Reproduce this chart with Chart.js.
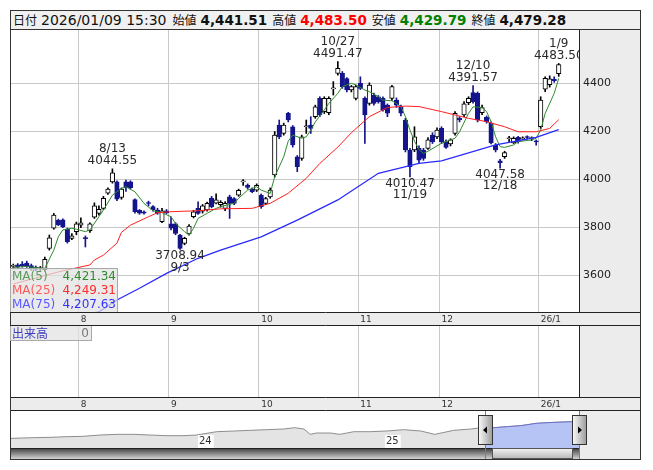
<!DOCTYPE html>
<html lang="ja">
<head>
<meta charset="utf-8">
<title>chart</title>
<script src="https://cdn.jsdelivr.net/npm/chart.js@4.4.1/dist/chart.umd.min.js"></script>
<style>
html,body{margin:0;padding:0;background:#fff}
body{position:relative;width:653px;height:470px;overflow:hidden;font-family:"DejaVu Sans",sans-serif}
#frame{position:absolute;left:10px;top:10px;width:631px;height:450px;border:1px solid #333;box-sizing:border-box}
#head{position:absolute;left:11px;top:11px;width:629px;height:19px;box-sizing:border-box;border-bottom:1px solid #333;background:#f0f0f0;line-height:18px;white-space:nowrap;color:#111;padding-left:2px}
#head span{display:inline-block}
#head .k{font-family:"Noto Sans CJK JP",sans-serif;font-size:12px;margin-right:4px}
#head .d{font-size:14px;margin-right:6px}
#head .v{font-size:13.5px;font-weight:bold;margin-right:5px}
canvas{position:absolute;left:11px;display:block}
#main{top:30px}
#vol{top:326px}
#nav{top:411px}
#malegend{position:absolute;left:10px;top:268px;width:108px;height:44px;box-sizing:border-box;border:1px solid #a8a8a8;border-bottom:none;background:rgba(226,226,226,0.72);font-size:12px}
#malegend div{position:relative;height:14px;line-height:14px}
#malegend .n{position:absolute;left:1px}
#malegend .v{position:absolute;right:1px}
#volbox{position:absolute;left:10px;top:326px;width:82px;height:15px;box-sizing:border-box;border:1px solid #a8a8a8;border-top:none;background:rgba(226,226,226,0.72);font-size:12px;line-height:14px}
#volbox .n{position:absolute;left:1px;font-family:"Noto Sans CJK JP",sans-serif;color:#3c3cc0}
#volbox .v{position:absolute;right:2px;color:#777}
</style>
</head>
<body>
<div id="frame"></div>
<div id="head"></div>
<canvas id="main" width="629" height="296"></canvas>
<canvas id="vol" width="629" height="85"></canvas>
<canvas id="nav" width="629" height="48"></canvas>
<div id="malegend"></div>
<div id="volbox"><span class="n">出来高</span><span class="v" id="volv"></span></div>
<script>
// trading days shown, plus the empty slots on the right
const dates = [
'7/10','7/11','7/14','7/15','7/16','7/17','7/18','7/22','7/23','7/24','7/25','7/28','7/29','7/30','7/31',
'8/1','8/4','8/5','8/6','8/7','8/8','8/12','8/13','8/14','8/15','8/18','8/19','8/20','8/21','8/22','8/25','8/26','8/27','8/28','8/29',
'9/1','9/2','9/3','9/4','9/5','9/8','9/9','9/10','9/11','9/12','9/16','9/17','9/18','9/19','9/22','9/24','9/25','9/26','9/29','9/30',
'10/1','10/2','10/3','10/6','10/7','10/8','10/9','10/10','10/14','10/15','10/16','10/17','10/20','10/21','10/22','10/23','10/24','10/27','10/28','10/29','10/30','10/31',
'11/4','11/5','11/6','11/7','11/10','11/11','11/12','11/13','11/14','11/17','11/18','11/19','11/20','11/21','11/25','11/26','11/27','11/28',
'12/1','12/2','12/3','12/4','12/5','12/8','12/9','12/10','12/11','12/12','12/15','12/16','12/17','12/18','12/19','12/22','12/23','12/24','12/25','12/26','12/29','12/30',
'1/5','1/6','1/7','1/8','1/9'
]
const futureDates = ['1/13','1/14','1/15','1/16']

const opens = [
3638,3645,3648,3652,3642,3634,3628,3624,3713,3797,3830,3832,3794,3755,3783,
3810,3757,3787,3843,3859,3880,3943,3990,3990,3925,3990,3990,3917,3872,3866,3902,3887,3873,3825,3870,
3815,3815,3769,3734,3773,3845,3880,3868,3873,3922,3902,3895,3880,3928,3921,3935,3990,3977,3959,3956,
3935,3901,3928,4019,4227,4192,4276,4220,4095,4088,4220,4227,4262,4338,4283,4279,4378,4442,4442,4421,4373,4338,
4401,4338,4317,4352,4345,4338,4310,4338,4331,4303,4248,4123,4123,4130,4123,4130,4185,4178,
4213,4158,4148,4192,4255,4269,4320,4362,4359,4279,4259,4234,4144,4078,4095,4170,4153,4176,4170,4176,4171,4158,
4220,4376,4395,4418,4441.51
]
const highs = [
3648,3650,3658,3660,3648,3640,3638,3677,3769,3859,3835,3836,3798,3775,3823,
3840,3765,3820,3903,3890,3930,3965,4044.55,3995,3965,3998,3995,3920,3875,3870,3910,3892,3880,3880,3875,
3845,3820,3772,3760,3812,3872,3907,3896,3906,3930,3940,3912,3908,3935,3925,3960,4000,3982,3965,3982,
3940,3926,3965,4200,4248,4235,4280,4225,4100,4185,4248,4262,4310,4345,4345,4345,4408,4491.47,4450,4425,4392,4394,
4428,4345,4403,4360,4350,4345,4315,4392,4340,4310,4255,4130,4220,4140,4130,4175,4195,4215,
4220,4165,4170,4283,4262,4325,4345,4391.57,4365,4310,4265,4240,4150,4084,4118,4180,4178,4180,4178,4182,4178,4165,
4345,4428,4432,4428,4483.50
]
const lows = [
3628,3630,3635,3634,3622,3620,3618,3618,3706,3793,3808,3800,3735,3750,3770,
3800,3719,3780,3838,3852,3875,3938,3985,3912,3918,3950,3960,3860,3855,3856,3890,3868,3855,3820,3858,
3790,3770,3708.94,3728,3768,3840,3855,3860,3868,3882,3898,3885,3870,3838,3895,3930,3975,3960,3945,3950,
3880,3895,3922,4010,4170,4185,4240,4135,4033,4080,4192,4192,4255,4262,4275,4270,4352,4435,4380,4365,4365,4332,
4375,4151,4310,4310,4318,4285,4262,4330,4300,4265,4115,4010.47,4116,4070,4080,4125,4150,4170,
4150,4130,4140,4185,4240,4262,4312,4318,4240,4270,4235,4148,4115,4047.58,4088,4158,4150,4152,4165,4168,4162,4143,
4213,4366,4385,4405,4429.79
]
const closes = [
3642,3636,3640,3638,3628,3626,3630,3668,3757,3852,3812,3803,3741,3765,3815,
3820,3754,3815,3890,3876,3922,3960,4028,3918,3960,3965,3966,3866,3860,3860,3900,3873,3860,3870,3862,
3797,3776,3713,3755,3806,3866,3859,3890,3901,3887,3915,3905,3901,3901,3901,3955,3992,3967,3949,3976,
3887,3921,3956,4185,4178,4227,4248,4144,4054,4178,4222,4213,4303,4269,4338,4338,4380,4463,4387,4373,4387,4387,
4380,4269,4394,4317,4324,4290,4276,4387,4310,4276,4123,4054,4178,4081,4088,4165,4158,4206,
4158,4134,4165,4276,4248,4315,4338,4324,4248,4300,4241,4153,4123,4070,4112,4172,4172,4158,4172,4175,4172,4157,
4331,4422,4420,4412,4479.28
]

// moving averages: [day, value]
const ma5 = [
['7/10',3634],['7/15',3638],['7/17',3633],['7/22',3630],['7/24',3706],['7/25',3762],['7/28',3790],['7/30',3797],['7/31',3793],
['8/4',3783],['8/5',3790],['8/7',3845],['8/8',3873],['8/13',3935],['8/15',3963],['8/18',3970],['8/20',3949],['8/22',3901],
['8/26',3870],['8/28',3862],['9/1',3845],['9/2',3817],['9/4',3783],['9/5',3769],['9/8',3797],['9/9',3838],['9/11',3859],
['9/16',3880],['9/17',3887],['9/22',3901],['9/24',3922],['9/26',3956],['9/30',3970],['10/1',3956],['10/3',3942],['10/6',4012],
['10/8',4095],['10/9',4160],['10/10',4185],['10/15',4172],['10/16',4178],['10/17',4206],['10/20',4240],['10/22',4290],
['10/23',4317],['10/27',4359],['10/28',4387],['10/30',4401],['10/31',4394],['11/5',4373],['11/6',4366],['11/10',4345],
['11/11',4331],['11/13',4328],['11/14',4317],['11/17',4303],['11/18',4262],['11/19',4206],['11/20',4160],['11/21',4125],
['11/25',4109],['11/26',4118],['12/1',4151],['12/4',4172],['12/5',4199],['12/9',4276],['12/10',4303],['12/12',4300],
['12/15',4283],['12/16',4241],['12/17',4178],['12/18',4137],['12/19',4134],['12/23',4144],['12/24',4158],['12/29',4165],
['12/30',4172],['1/5',4206],['1/6',4276],['1/8',4359],['1/9',4421.34]
]
const ma25 = [
['7/10',3565],['7/22',3600],['7/25',3615],['7/31',3632],['8/5',3644],['8/6',3665],['8/8',3685],['8/14',3735],['8/15',3780],
['8/19',3810],['8/25',3845],['8/27',3862],['9/1',3866],['9/9',3870],['9/17',3878],['9/29',3880],['10/3',3901],['10/9',3943],
['10/16',4005],['10/21',4067],['10/27',4135],['10/30',4195],['11/6',4262],['11/12',4300],['11/18',4306],['11/21',4304],
['12/1',4283],['12/4',4269],['12/9',4255],['12/15',4241],['12/19',4220],['12/24',4199],['12/30',4199],['1/7',4213],['1/9',4249.31]
]
const ma75 = [
['7/10',3380],['7/25',3415],['8/7',3449],['8/14',3498],['8/21',3547],['8/29',3609],['9/9',3672],['9/17',3706],['10/1',3761],
['10/14',3831],['10/27',3915],['11/10',4026],['11/21',4067],['12/1',4078],['12/17',4144],['12/30',4176],['1/9',4207.63]
]

const marks = [['8/13','high'],['9/3','low'],['10/27','high'],['11/19','low'],['12/10','high'],['12/18','low'],['1/9','high']]
const monthLabels = ['8','9','10','11','12','26/1']
const yTicks = [3600,3800,4000,4200,4400]
const volumes = []

// navigator: months since Jan 2023 and the line value
const navMonths = [0,1.4,2.5,3.6,4.6,5.7,6.8,7.9,8.9,10,11.1,11.9,13.2,14.3,15.3,16.4,17.5,18.2,18.8,19.2,19.6,20.5,21.1,22,23,24.1,25.2,26.3,27.2,28.4,29.5,30.4,31,31.8,32.7,33.7,34.8,36,36.45]
const navValues = [1643,1757,1813,1927,1983,2210,2323,2323,2210,2097,2097,2210,2777,2890,3003,3117,3230,3457,3230,2323,2550,2550,2323,2777,2777,2890,3117,2890,2323,3003,3230,3520,3457,3627,3797,4193,4363,4477,4460]
const navRange = [30.4, 36.45]
const navYears = [[12,'24'],[24,'25']]

const GRID = '#c9c9c9'
const NAVY = '#14148c'
const fmt = v => v.toLocaleString('en-US', {minimumFractionDigits:2, maximumFractionDigits:2})

Chart.defaults.font.family = 'DejaVu Sans'

/* header and legends */

const last = dates.length - 1
document.getElementById('head').innerHTML =
'<span class="k">日付</span><span class="d">2026/01/09 15:30</span>' +
'<span class="k">始値</span><span class="v">' + fmt(opens[last]) + '</span>' +
'<span class="k">高値</span><span class="v" style="color:#f00">' + fmt(highs[last]) + '</span>' +
'<span class="k">安値</span><span class="v" style="color:#008000">' + fmt(lows[last]) + '</span>' +
'<span class="k">終値</span><span class="v">' + fmt(closes[last]) + '</span>'

const maInfo = [
['MA(5)', ma5, '#5e9a5e', '#2f8a2f'],
['MA(25)', ma25, '#ff5a5a', '#ff2a2a'],
['MA(75)', ma75, '#5a5aff', '#3232ff']
]
document.getElementById('malegend').innerHTML = maInfo.map(m =>
'<div><span class="n" style="color:' + m[2] + '">' + m[0] + '</span><span class="v" style="color:' + m[3] + '">' + fmt(m[1][m[1].length-1][1]) + '</span></div>'
).join('')
document.getElementById('volv').textContent = volumes.length ? volumes[volumes.length-1] : 0

/* shared pieces */

const labels = dates.concat(futureDates)
const up = closes.map((c,i) => c >= opens[i])

const isMonthStart = i => i > 0 && i < dates.length && dates[i].split('/')[0] !== dates[i-1].split('/')[0]
const monthStarts = dates.map((d,i) => i).filter(isMonthStart)
const tickText = i => {
const k = monthStarts.indexOf(i)
return k < 0 ? '' : monthLabels[k]
}

function timeAxis(){
return {
type:'category',
offset:true,
grid:{offset:true, drawTicks:false, color: c => isMonthStart(c.index) ? GRID : 'rgba(0,0,0,0)'},
border:{display:false},
ticks:{autoSkip:false, maxRotation:0, minRotation:0, align:'start', padding:1, color:'#333', font:{size:9}, callback:(v,i) => tickText(i)},
afterFit: s => { s.height = 13; s.paddingLeft = 0; s.paddingRight = 0 }
}
}

const panel = {
id:'panel',
beforeDraw(chart){
const {ctx, chartArea:a, width, height} = chart
ctx.save()
ctx.fillStyle = '#ececec'
ctx.fillRect(0,0,width,height)
ctx.fillStyle = '#fff'
ctx.fillRect(a.left,a.top,a.right-a.left,a.bottom-a.top)
ctx.restore()
},
afterDraw(chart, args, opts){
if(!opts.lines) return
const {ctx, chartArea:a, width, height} = chart
ctx.save()
ctx.strokeStyle = '#222'
ctx.lineWidth = 1
ctx.beginPath()
ctx.moveTo(a.right+0.5, a.top)
ctx.lineTo(a.right+0.5, a.bottom)
ctx.moveTo(0, a.bottom-0.5)
ctx.lineTo(width, a.bottom-0.5)
ctx.moveTo(0, height-0.5)
ctx.lineTo(width, height-0.5)
ctx.stroke()
ctx.restore()
}
}

/* high / low labels */

const peakLabels = {
id:'peakLabels',
afterDatasetsDraw(chart){
const {ctx, chartArea:a, scales:{x, y}} = chart
ctx.save()
ctx.beginPath()
ctx.rect(a.left, a.top, a.right-a.left, a.bottom-a.top)
ctx.clip()
ctx.font = '12px "DejaVu Sans"'
ctx.fillStyle = '#2a2a2a'
ctx.textAlign = 'center'
ctx.textBaseline = 'middle'
marks.forEach(([d, side]) => {
const i = dates.indexOf(d)
const px = x.getPixelForValue(i)
if(side === 'high'){
const py = y.getPixelForValue(highs[i])
ctx.fillText(d, px, py-20)
ctx.fillText(highs[i].toFixed(2), px, py-8)
}else{
const py = y.getPixelForValue(lows[i])
ctx.fillText(lows[i].toFixed(2), px, py+6.5)
ctx.fillText(d, px, py+18)
}
})
ctx.restore()
}
}

const maLine = (data, color, w) => ({
type:'line',
data: data.map(([d,v]) => ({x:d, y:v})),
borderColor: color,
borderWidth: w,
pointRadius: 0,
tension: 0,
order: 0
})

/* price chart */

new Chart(document.getElementById('main'), {
type:'bar',
data:{
labels,
datasets:[
maLine(ma75, '#2a2aff', 1.3),
maLine(ma25, '#ff2020', 1),
maLine(ma5, '#2e8b2e', 1),
{
label:'body',
data: opens.map((o,i) => [o, closes[i]]),
backgroundColor: up.map(u => u ? '#fff' : NAVY),
borderColor: up.map(u => u ? '#000' : NAVY),
borderWidth:1,
borderSkipped:false,
barThickness:4.5,
minBarLength:1,
grouped:false,
order:1
},
{
label:'wick',
data: lows.map((l,i) => [l, highs[i]]),
backgroundColor: up.map(u => u ? '#000' : NAVY),
barThickness:1,
grouped:false,
order:2
}
]
},
options:{
responsive:false,
animation:false,
devicePixelRatio:1,
events:[],
layout:{padding:0},
plugins:{legend:{display:false}, tooltip:{enabled:false}, panel:{lines:true}},
scales:{
x: timeAxis(),
y:{
position:'right',
min:3444,
max:4623,
grid:{color:GRID, drawTicks:false},
border:{display:false},
ticks:{padding:4, color:'#222', font:{size:11}, callback: v => String(v)},
afterBuildTicks: s => { s.ticks = yTicks.map(v => ({value:v})) },
afterFit: s => { s.width = 61; s.paddingTop = 0; s.paddingBottom = 0 }
}
}
},
plugins:[panel, peakLabels]
})

/* volume panel */

new Chart(document.getElementById('vol'), {
type:'bar',
data:{labels, datasets:[{label:'出来高', data:volumes, backgroundColor:NAVY}]},
options:{
responsive:false,
animation:false,
devicePixelRatio:1,
events:[],
layout:{padding:{right:61}},
plugins:{legend:{display:false}, tooltip:{enabled:false}, panel:{lines:true}},
scales:{
x: timeAxis(),
y:{display:false, min:0, max:1}
}
},
plugins:[panel]
})

/* navigator */

const navDecor = {
id:'navDecor',
afterDraw(chart){
const {ctx, chartArea:a, scales:{x}, height} = chart
const sx = Math.round(x.getPixelForValue(navRange[0])) + 0.5
const ex = Math.round(x.getPixelForValue(navRange[1])) + 0.5
ctx.save()

ctx.font = '10px "DejaVu Sans"'
ctx.textBaseline = 'middle'
ctx.textAlign = 'left'
navYears.forEach(([m, t]) => {
const px = Math.round(x.getPixelForValue(m))
const w = ctx.measureText(t).width
ctx.fillStyle = '#fff'
ctx.fillRect(px, 24, w+3, a.bottom-24)
ctx.fillStyle = '#333'
ctx.fillText(t, px+1, 30)
})

let g = ctx.createLinearGradient(0, a.bottom, 0, height)
g.addColorStop(0, '#3a3a3a')
g.addColorStop(1, '#d4d4d4')
ctx.fillStyle = g
ctx.fillRect(a.left, a.bottom, a.right-a.left, height-a.bottom)
ctx.strokeStyle = '#222'
ctx.lineWidth = 1
ctx.beginPath()
ctx.moveTo(a.left, a.bottom+0.5)
ctx.lineTo(a.right, a.bottom+0.5)
ctx.stroke()

g = ctx.createLinearGradient(0, a.bottom, 0, height)
g.addColorStop(0, '#f6f6f6')
g.addColorStop(1, '#b4b4b4')
ctx.fillStyle = g
ctx.fillRect(sx+7, a.bottom+1, ex-sx-14, height-a.bottom-1)
ctx.strokeStyle = '#555'
ctx.strokeRect(sx+7, a.bottom+0.5, ex-sx-14, height-a.bottom-1)

ctx.strokeStyle = '#1aa0d8'
ctx.beginPath()
ctx.moveTo(sx, 0)
ctx.lineTo(sx, height)
ctx.moveTo(ex, 0)
ctx.lineTo(ex, height)
ctx.stroke()

;[[sx,-1],[ex,1]].forEach(([hx, dir]) => {
const l = hx-7, t = 4.5, w = 14, h = 29
const hg = ctx.createLinearGradient(l, 0, l+w, 0)
hg.addColorStop(0, '#fafafa')
hg.addColorStop(1, '#9c9c9c')
ctx.fillStyle = hg
ctx.fillRect(l, t, w, h)
ctx.strokeStyle = '#333'
ctx.strokeRect(l, t, w, h)
const cy = t + h/2
ctx.fillStyle = '#000'
ctx.beginPath()
ctx.moveTo(hx + dir*2.5, cy)
ctx.lineTo(hx - dir*1.5, cy-3.5)
ctx.lineTo(hx - dir*1.5, cy+3.5)
ctx.closePath()
ctx.fill()
})
ctx.restore()
}
}

const navPoints = navMonths.map((m,i) => ({x:m, y:navValues[i]}))

new Chart(document.getElementById('nav'), {
type:'line',
data:{
datasets:[
{
data: navPoints.filter(p => p.x >= navRange[0]),
borderColor:'#6e6ec8',
backgroundColor:'#b6c3f5',
borderWidth:1,
fill:'origin',
pointRadius:0,
order:0
},
{
data: navPoints,
borderColor:'#8e8e8e',
backgroundColor:'#e4e4e4',
borderWidth:1,
fill:'origin',
pointRadius:0,
order:1
}
]
},
options:{
responsive:false,
animation:false,
devicePixelRatio:1,
events:[],
layout:{padding:{right:61, bottom:11}},
plugins:{legend:{display:false}, tooltip:{enabled:false}, panel:{lines:false}},
scales:{
x:{type:'linear', display:false, min:0, max:navRange[1]},
y:{display:false, min:0, max:6300}
}
},
plugins:[panel, navDecor]
})
</script>
</body>
</html>
